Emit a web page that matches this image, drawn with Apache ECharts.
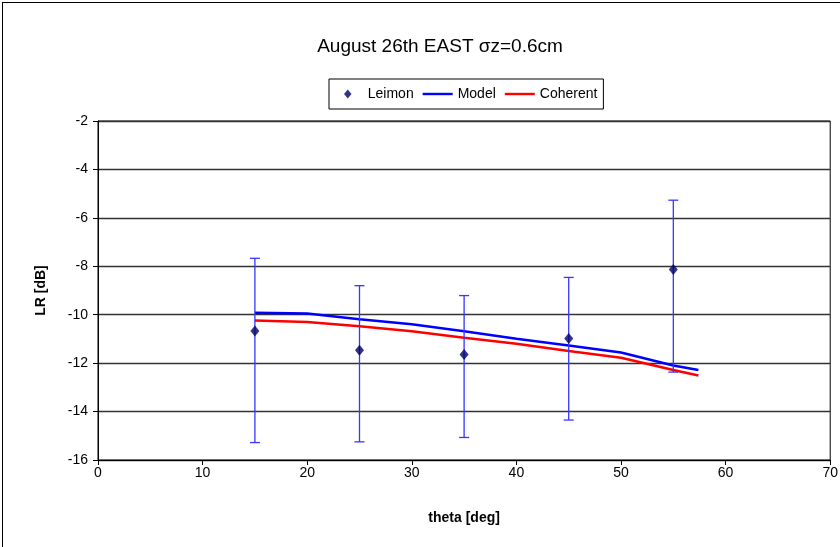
<!DOCTYPE html>
<html>
<head>
<meta charset="utf-8">
<script src="https://cdn.jsdelivr.net/npm/echarts@6/dist/echarts.min.js"></script>
<style>
  html, body { margin: 0; padding: 0; background: #fff; }
  #chart {
    position: absolute; left: 2px; top: 2px;
    width: 838px; height: 545px;
    border-left: 1px solid #000; border-top: 1px solid #000;
  }
</style>
</head>
<body>
<div id="chart"></div>
<script>
// measured points (Leimon) with error bars
const thetaPts = [15, 25, 35, 45, 55];
const leimonVals = [-10.67, -11.47, -11.64, -10.98, -8.13];
const errHigh = [-7.67, -8.80, -9.21, -8.46, -5.27];
const errLow = [-15.28, -15.25, -15.07, -14.35, -12.37];

// model curves
const curveTheta = [15, 20, 25, 30, 35, 40, 45, 50, 55, 57.4];
const modelVals = [-9.92, -9.95, -10.19, -10.39, -10.68, -10.99, -11.27, -11.56, -12.10, -12.28];
const coherentVals = [-10.24, -10.30, -10.48, -10.68, -10.95, -11.20, -11.50, -11.78, -12.28, -12.51];

const font = "'Liberation Sans', Arial, sans-serif";
const lineIcon = "path://M0,0H30V2.4H0Z";

const chart = echarts.init(document.getElementById("chart"));

chart.setOption({
  animation: false,
  title: {
    text: "August 26th EAST σz=0.6cm",
    left: 432,
    top: 29,
    textAlign: "center",
    textStyle: { fontFamily: font, fontSize: 19, fontWeight: "normal", color: "#000" },
  },
  legend: {
    left: 326,
    top: 76,
    orient: "horizontal",
    borderColor: "#000",
    borderWidth: 1,
    backgroundColor: "#fff",
    padding: [8, 6, 8, 15],
    itemGap: 9,
    itemWidth: 30,
    itemHeight: 9,
    symbolKeepAspect: true,
    textStyle: { fontFamily: font, fontSize: 14, color: "#000" },
    data: [
      { name: "Leimon", icon: "path://M5,0L10,6L5,12L0,6Z" },
      { name: "Model", icon: lineIcon },
      { name: "Coherent", icon: lineIcon },
    ],
  },
  grid: {
    left: 95,
    right: 5,
    top: 118,
    bottom: 88,
    show: true,
    borderColor: "#000",
    borderWidth: 1,
  },
  xAxis: {
    type: "value",
    min: 0,
    max: 70,
    interval: 10,
    name: "theta [deg]",
    nameLocation: "middle",
    nameGap: 51,
    nameTextStyle: { fontFamily: font, fontSize: 14, fontWeight: "bold", color: "#000" },
    axisLine: { lineStyle: { color: "#000" } },
    axisTick: { show: true, length: 5, lineStyle: { color: "#000" } },
    axisLabel: { fontFamily: font, fontSize: 14, color: "#000", margin: 6 },
    splitLine: { show: false },
  },
  yAxis: {
    type: "value",
    min: -16,
    max: -2,
    interval: 2,
    name: "LR [dB]",
    nameLocation: "middle",
    nameGap: 50,
    nameTextStyle: { fontFamily: font, fontSize: 14, fontWeight: "bold", color: "#000" },
    axisLine: { show: true, lineStyle: { color: "#000" } },
    axisTick: { show: true, length: 5, lineStyle: { color: "#000" } },
    axisLabel: { fontFamily: font, fontSize: 14, color: "#000", margin: 10 },
    splitLine: { show: true, lineStyle: { color: "#333", width: 1.4 } },
  },
  series: [
    {
      name: "Model",
      type: "line",
      data: curveTheta.map((t, i) => [t, modelVals[i]]),
      symbol: "none",
      lineStyle: { color: "#0000ff", width: 2.5 },
      itemStyle: { color: "#0000ff" },
      z: 3,
    },
    {
      name: "Coherent",
      type: "line",
      data: curveTheta.map((t, i) => [t, coherentVals[i]]),
      symbol: "none",
      lineStyle: { color: "#ff0000", width: 2.5 },
      itemStyle: { color: "#ff0000" },
      z: 2,
    },
    {
      name: "errbars",
      type: "custom",
      data: thetaPts.map((t, i) => [t, errLow[i], errHigh[i]]),
      renderItem: (params, api) => {
        const lo = api.coord([api.value(0), api.value(1)]);
        const hi = api.coord([api.value(0), api.value(2)]);
        const w = 5;
        const style = { stroke: "#3636ff", lineWidth: 1.3 };
        return {
          type: "group",
          children: [
            { type: "line", shape: { x1: lo[0], y1: lo[1], x2: hi[0], y2: hi[1] }, style },
            { type: "line", shape: { x1: lo[0] - w, y1: lo[1], x2: lo[0] + w, y2: lo[1] }, style },
            { type: "line", shape: { x1: hi[0] - w, y1: hi[1], x2: hi[0] + w, y2: hi[1] }, style },
          ],
        };
      },
      z: 4,
    },
    {
      name: "Leimon",
      type: "scatter",
      data: thetaPts.map((t, i) => [t, leimonVals[i]]),
      symbol: "diamond",
      symbolSize: [9, 11],
      itemStyle: { color: "#000066" },
      z: 5,
    },
  ],
});
</script>
</body>
</html>
